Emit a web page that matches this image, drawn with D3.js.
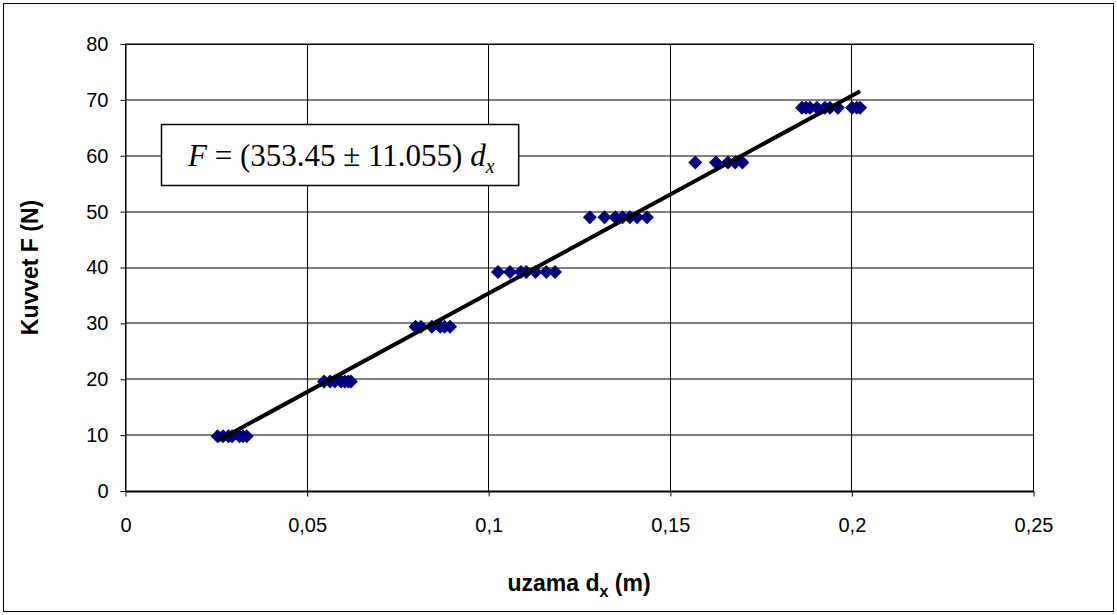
<!DOCTYPE html>
<html>
<head>
<meta charset="utf-8">
<script src="https://cdn.jsdelivr.net/npm/d3@7"></script>
<style>
  html, body { margin: 0; padding: 0; background: #fff; }
  svg { display: block; }
  text { font-family: Arial, 'Liberation Sans', sans-serif; }
</style>
</head>
<body>
<div id="chart"></div>
<script>
// force levels (N) and the measured extensions at each level (m)
const forceLevels = [9.8, 19.6, 29.4, 39.2, 49, 58.8, 68.6];
const extensions = [
  [0.0255, 0.027, 0.0285, 0.0295, 0.0315, 0.0325, 0.0335],
  [0.0548, 0.0565, 0.0578, 0.0595, 0.0605, 0.0615, 0.0622],
  [0.0800, 0.0815, 0.0845, 0.0868, 0.0880, 0.0895],
  [0.1027, 0.1060, 0.1090, 0.1105, 0.1130, 0.1160, 0.1184],
  [0.1280, 0.1320, 0.1350, 0.1370, 0.1390, 0.1410, 0.1437],
  [0.1570, 0.1627, 0.1660, 0.1680, 0.1700],
  [0.1864, 0.1875, 0.1886, 0.1905, 0.1927, 0.1941, 0.1963, 0.2002, 0.2015, 0.2024]
];
const slope = 353.45;
const slopeErr = 11.055;
const xTicks = [0, 0.05, 0.1, 0.15, 0.2, 0.25];
const yTicks = [0, 10, 20, 30, 40, 50, 60, 70, 80];

const W = 1117, H = 615;
const margin = { top: 44, right: 84, bottom: 124, left: 125 };
const width = W - margin.left - margin.right;
const height = H - margin.top - margin.bottom;

const points = [];
forceLevels.forEach((f, i) => extensions[i].forEach(x => points.push({ x, f })));

const svg = d3.select('#chart').append('svg')
  .attr('width', W)
  .attr('height', H);

svg.append('rect')
  .attr('x', 3.5).attr('y', 3.5)
  .attr('width', W - 7).attr('height', H - 7)
  .attr('fill', '#fff')
  .attr('stroke', '#000');

const xScale = d3.scaleLinear().domain([0, 0.25]).range([0, width]);
const yScale = d3.scaleLinear().domain([0, 80]).range([height, 0]);

const comma = d3.formatLocale({ decimal: ',', thousands: '.', grouping: [3], currency: ['', ''] });
const fmtX = d => d === 0 ? '0' : comma.format('~g')(d);

const g = svg.append('g').attr('transform', `translate(${margin.left},${margin.top})`);

// horizontal grid (soft, like the original)
g.append('g')
  .selectAll('line')
  .data(yTicks)
  .enter()
  .append('line')
  .attr('x1', 0).attr('x2', width)
  .attr('y1', d => Math.round(yScale(d)))
  .attr('y2', d => Math.round(yScale(d)))
  .attr('stroke', '#000')
  .attr('stroke-width', 1);

// vertical grid
g.append('g')
  .selectAll('line')
  .data(xTicks)
  .enter()
  .append('line')
  .attr('x1', d => Math.round(xScale(d)) + 0.5)
  .attr('x2', d => Math.round(xScale(d)) + 0.5)
  .attr('y1', 0).attr('y2', height)
  .attr('stroke', '#000')
  .attr('stroke-width', 1);

g.append('rect')
  .attr('x', 0.5).attr('y', 0.5)
  .attr('width', width).attr('height', height)
  .attr('fill', 'none')
  .attr('stroke', '#000');

const xAxis = d3.axisBottom(xScale).tickValues(xTicks).tickFormat(fmtX).tickSizeInner(5).tickSizeOuter(0).tickPadding(21);
const yAxis = d3.axisLeft(yScale).tickValues(yTicks).tickSizeInner(5).tickSizeOuter(0).tickPadding(12);

const gx = g.append('g')
  .attr('transform', `translate(0.5, ${height + 0.5})`)
  .call(xAxis);
const gy = g.append('g')
  .attr('transform', 'translate(0.5, 0)')
  .call(yAxis);

[gx, gy].forEach(a => {
  a.attr('font-size', null).attr('font-family', null);
  a.select('.domain').attr('stroke', '#000');
  a.selectAll('.tick line').attr('stroke', '#000');
  a.selectAll('text')
    .attr('fill', '#000')
    .style('font-size', '20px')
    .style('font-family', 'Arial, "Liberation Sans", sans-serif');
});

// data markers
const diamond = d3.symbol().type(d3.symbolSquare).size(98);
g.append('g')
  .selectAll('path')
  .data(points)
  .enter()
  .append('path')
  .attr('d', diamond)
  .attr('transform', d => `translate(${xScale(d.x)},${yScale(d.f)}) rotate(45)`)
  .attr('fill', '#000080');

// fitted line through origin
const xMin = d3.min(points, d => d.x);
const xMax = d3.max(points, d => d.x);
const line = d3.line().x(d => xScale(d)).y(d => yScale(slope * d));
g.append('path')
  .datum([xMin, xMax])
  .attr('d', line)
  .attr('fill', 'none')
  .attr('stroke', '#000')
  .attr('stroke-width', 4);

// equation box
const box = svg.append('rect')
  .attr('x', 161.5).attr('y', 124.5)
  .attr('height', 61)
  .attr('fill', '#fff')
  .attr('stroke', '#000')
  .attr('stroke-width', 1.5);

const eq = svg.append('text')
  .attr('x', 188).attr('y', 166)
  .style('font-family', '"Liberation Serif", "DejaVu Serif", serif')
  .style('font-size', '31px')
  .attr('fill', '#000');
eq.append('tspan').style('font-style', 'italic').text('F');
eq.append('tspan').text(` = (${slope} \u00b1 ${slopeErr}) `);
eq.append('tspan').style('font-style', 'italic').text('d');
eq.append('tspan').style('font-style', 'italic').style('font-size', '20px').attr('dy', 7).text('x');
const eqBox = eq.node().getBBox();
box.attr('width', eqBox.x + eqBox.width + 24 - 161.5);

// axis titles
const xTitle = svg.append('text')
  .attr('x', margin.left + width / 2)
  .attr('y', 591)
  .attr('text-anchor', 'middle')
  .style('font-size', '23px')
  .style('font-weight', 'bold');
xTitle.append('tspan').text('uzama d');
xTitle.append('tspan').attr('dy', 6).style('font-size', '16px').text('x');
xTitle.append('tspan').attr('dy', -6).text(' (m)');

svg.append('text')
  .attr('transform', `translate(38, ${margin.top + height / 2}) rotate(-90)`)
  .attr('text-anchor', 'middle')
  .style('font-size', '23px')
  .style('font-weight', 'bold')
  .text('Kuvvet F (N)');
</script>
</body>
</html>
